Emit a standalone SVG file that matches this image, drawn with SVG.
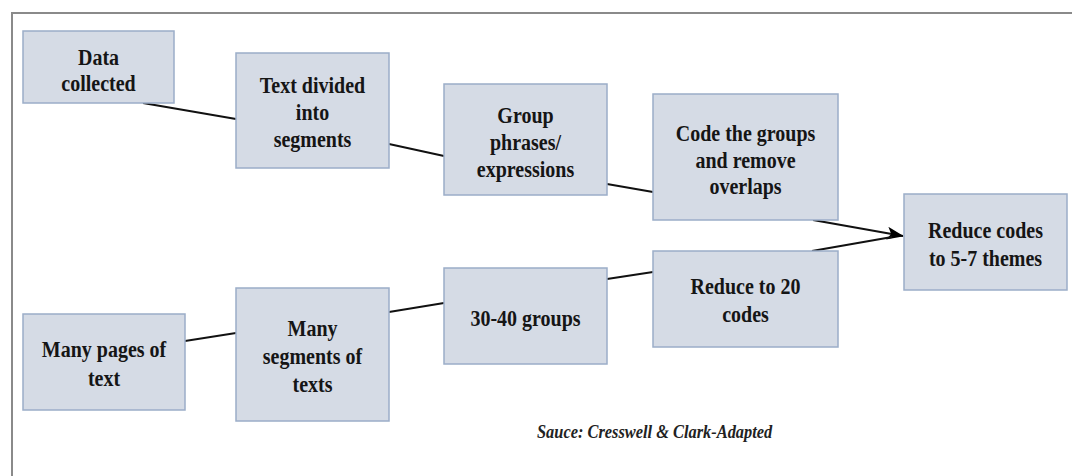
<svg xmlns="http://www.w3.org/2000/svg" width="1072" height="476" viewBox="0 0 1072 476">
  <style>
    .box { fill: #d5dbe5; stroke: #9badc8; stroke-width: 1.5; }
    .lbl { font-family: 'Liberation Serif', 'Times New Roman', Times, serif; font-weight: 700; font-size: 20px; fill: #151515; text-anchor: middle; }
    .link { stroke: #111; stroke-width: 2; fill: none; }
    .frame { stroke: #8a8a8a; stroke-width: 2; fill: none; }
    .src { font-family: 'Liberation Serif', 'Times New Roman', Times, serif; font-weight: 700; font-style: italic; font-size: 16.4px; fill: #222; }
  </style>
  <defs>
    <marker id="arrow" markerUnits="userSpaceOnUse" markerWidth="17" markerHeight="13" refX="16" refY="6.5" orient="auto">
      <path d="M0,0 L17,6.5 L0,13 L4,6.5 z" fill="#000"/>
    </marker>
  </defs>

  <!-- page frame: top and left rules -->
  <path class="frame" d="M12,476 L12,13 L1072,13"/>

  <!-- connectors -->
  <g id="connectors">
    <line class="link" x1="143" y1="103" x2="236" y2="119"/>
    <line class="link" x1="389" y1="144" x2="444" y2="156"/>
    <line class="link" x1="607" y1="184" x2="653" y2="192"/>
    <line class="link" x1="813" y1="220" x2="903" y2="236" marker-end="url(#arrow)"/>
    <line class="link" x1="185" y1="341" x2="236" y2="333"/>
    <line class="link" x1="389" y1="312" x2="444" y2="303"/>
    <line class="link" x1="607" y1="279" x2="653" y2="272"/>
    <line class="link" x1="812" y1="251" x2="892" y2="237"/>
  </g>

  <!-- top row -->
  <g id="data-collected">
    <rect class="box" x="23" y="31" width="151" height="72"/>
    <text class="lbl" transform="translate(98.5,65) scale(1,1.12)"><tspan x="0" y="0">Data</tspan><tspan x="0" y="23.4">collected</tspan></text>
  </g>
  <g id="text-divided">
    <rect class="box" x="236" y="53" width="153" height="115"/>
    <text class="lbl" transform="translate(312.5,93) scale(1,1.12)"><tspan x="0" y="0">Text divided</tspan><tspan x="0" y="24.1">into</tspan><tspan x="0" y="48.2">segments</tspan></text>
  </g>
  <g id="group-phrases">
    <rect class="box" x="444" y="84" width="163" height="111"/>
    <text class="lbl" transform="translate(525.5,123) scale(1,1.12)"><tspan x="0" y="0">Group</tspan><tspan x="0" y="24.1">phrases/</tspan><tspan x="0" y="48.2">expressions</tspan></text>
  </g>
  <g id="code-groups">
    <rect class="box" x="653" y="94" width="185" height="126"/>
    <text class="lbl" transform="translate(745.5,141) scale(1,1.12)"><tspan x="0" y="0">Code the groups</tspan><tspan x="0" y="23.7">and remove</tspan><tspan x="0" y="47.4">overlaps</tspan></text>
  </g>
  <g id="reduce-themes">
    <rect class="box" x="904" y="194" width="163" height="96"/>
    <text class="lbl" transform="translate(985.5,238) scale(1,1.12)"><tspan x="0" y="0">Reduce codes</tspan><tspan x="0" y="25">to 5-7 themes</tspan></text>
  </g>

  <!-- bottom row -->
  <g id="many-pages">
    <rect class="box" x="23" y="314" width="162" height="96"/>
    <text class="lbl" transform="translate(104,357) scale(1,1.12)"><tspan x="0" y="0">Many pages of</tspan><tspan x="0" y="25.9">text</tspan></text>
  </g>
  <g id="many-segments">
    <rect class="box" x="236" y="288" width="153" height="133"/>
    <text class="lbl" transform="translate(312.5,336) scale(1,1.12)"><tspan x="0" y="0">Many</tspan><tspan x="0" y="25">segments of</tspan><tspan x="0" y="50">texts</tspan></text>
  </g>
  <g id="groups-30-40">
    <rect class="box" x="444" y="268" width="163" height="96"/>
    <text class="lbl" transform="translate(525.5,326) scale(1,1.12)"><tspan x="0" y="0">30-40 groups</tspan></text>
  </g>
  <g id="reduce-20">
    <rect class="box" x="653" y="251" width="185" height="96"/>
    <text class="lbl" transform="translate(745.5,294) scale(1,1.12)"><tspan x="0" y="0">Reduce to 20</tspan><tspan x="0" y="25">codes</tspan></text>
  </g>

  <!-- source note -->
  <text class="src" transform="translate(537,438) scale(1,1.1)">Sauce: Cresswell &amp; Clark-Adapted</text>
</svg>
